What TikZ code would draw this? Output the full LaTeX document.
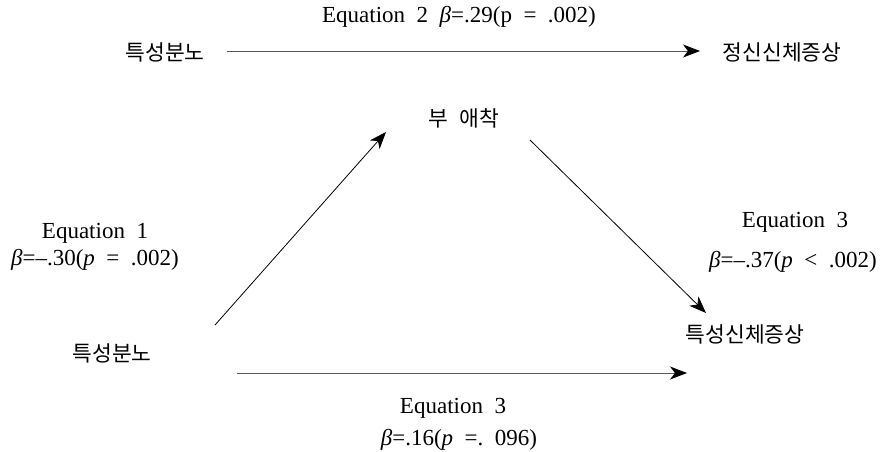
\documentclass[tikz,border=0pt]{standalone}
\usepackage{fontspec}
\setmainfont{Liberation Serif}
\newfontfamily\kofont{Noto Sans CJK KR}
\usetikzlibrary{arrows.meta}

\begin{document}
\begin{tikzpicture}[x=1pt, y=-1pt,
  ko/.style={font=\kofont\fontsize{21.5}{24}\selectfont, inner sep=0pt},
  eq/.style={font=\fontsize{23}{26}\selectfont, inner sep=0pt},
  link/.style={-{Stealth[length=17pt, width=13pt, inset=5pt, color=black]}, line width=0.8pt}]
  \useasboundingbox (0,0) rectangle (883,452);

  % Coordinates
  \coordinate (A) at (227.00, 51.00);
  \coordinate (B) at (700.00, 51.00);
  \coordinate (C) at (215.00, 325.00);
  \coordinate (D) at (386.00, 132.00);
  \coordinate (E) at (530.00, 140.00);
  \coordinate (F) at (706.00, 313.00);
  \coordinate (G) at (237.00, 373.00);
  \coordinate (H) at (687.00, 373.00);

  % Nodes
  \node[ko] (angerTop) at (165, 52) {특성분노};
  \node[ko] (somaTop) at (782, 52) {정신신체증상};
  \node[ko] (attach) at (464, 118) {부\enskip 애착};
  \node[ko] (anger) at (112, 353) {특성분노};
  \node[ko] (soma) at (745, 334) {특성신체증상};
  \node[eq] (eqTwo) at (459, 17) {Equation\enskip 2\enskip \textit{β}=.29(p\enskip=\enskip.002)};
  \node[eq] (eqOne) at (95, 233) {Equation\enskip 1};
  \node[eq] (betaOne) at (95, 260) {\textit{β}=–.30(\textit{p}\enskip=\enskip.002)};
  \node[eq] (eqThreeA) at (795, 222) {Equation\enskip 3};
  \node[eq] (betaThreeA) at (793, 262) {\textit{β}=–.37(\textit{p}\enskip<\enskip.002)};
  \node[eq] (eqThreeB) at (453, 408) {Equation\enskip 3};
  \node[eq] (betaThreeB) at (459, 440) {\textit{β}=.16(\textit{p}\enskip=.\enskip096)};

  % Drawing
  \draw[link, gray!70!black] (A) -- (B);
  \draw[link] (C) -- (D);
  \draw[link] (E) -- (F);
  \draw[link, gray!70!black] (G) -- (H);
\end{tikzpicture}
\end{document}
